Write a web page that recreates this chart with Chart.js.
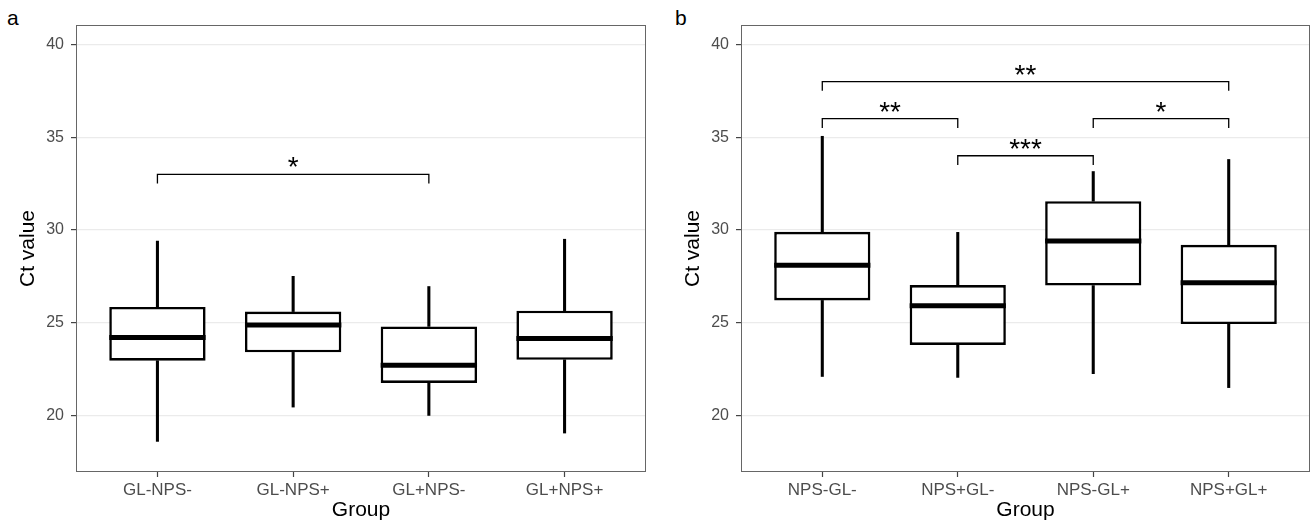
<!DOCTYPE html>
<html>
<head>
<meta charset="utf-8">
<script src="https://cdn.jsdelivr.net/npm/chart.js@4.4.0/dist/chart.umd.min.js"></script>
<style>
body{margin:0;background:#fff;width:1311px;height:525px;position:relative;overflow:hidden;font-family:'Liberation Sans',Arial,sans-serif}
.panel{position:absolute;top:0}
.tag{position:absolute;top:6px;font-size:21px;line-height:24px;color:#000}
</style>
</head>
<body>
<div class="tag" style="left:7px">a</div>
<div class="tag" style="left:675px">b</div>
<canvas id="chartA" class="panel" style="left:0" width="655" height="525"></canvas>
<canvas id="chartB" class="panel" style="left:665px" width="646" height="525"></canvas>
<script>
// panel a
const groupsA = ['GL-NPS-', 'GL-NPS+', 'GL+NPS-', 'GL+NPS+'];
const minA = [18.6, 20.45, 20.0, 19.05];
const q1A  = [22.95, 23.4, 21.75, 23.0];
const medA = [24.2, 24.87, 22.7, 24.15];
const q3A  = [25.85, 25.6, 24.8, 25.65];
const maxA = [29.4, 27.5, 26.95, 29.5];
const sigA = [{from: 1, to: 3, y: 33, label: '*'}];

// panel b
const groupsB = ['NPS-GL-', 'NPS+GL-', 'NPS-GL+', 'NPS+GL+'];
const minB = [22.1, 22.05, 22.25, 21.5];
const q1B  = [26.2, 23.8, 27.0, 24.93];
const medB = [28.1, 25.92, 29.4, 27.15];
const q3B  = [29.9, 27.03, 31.55, 29.2];
const maxB = [35.05, 29.87, 33.15, 33.8];
const sigB = [
    {from: 1, to: 4, y: 38, label: '**'},
    {from: 1, to: 2, y: 36, label: '**'},
    {from: 2, to: 3, y: 34, label: '***'},
    {from: 3, to: 4, y: 36, label: '*'}
];

const yTicks = [20, 25, 30, 35, 40];
const yMin = 16.95, yMax = 41.05;
const tipLen = 0.5;

const FONT = "'Liberation Sans', Arial, sans-serif";

function boxPlot(id, groups, mins, q1s, meds, q3s, maxs, sigs, padRight){
    let pos = groups.map((g, i) => i + 1);
    let boxData  = pos.map((x, i) => ({x: x, y: [q1s[i], q3s[i]]}));
    let lowData  = pos.map((x, i) => ({x: x, y: [mins[i], q1s[i]]}));
    let highData = pos.map((x, i) => ({x: x, y: [q3s[i], maxs[i]]}));

    // medians, significance brackets and panel border
    let extras = {
        id: 'extras',
        afterDatasetsDraw(chart){
            let ctx = chart.ctx, xs = chart.scales.x, ys = chart.scales.y;
            let bars = chart.getDatasetMeta(0).data;
            ctx.save();
            ctx.strokeStyle = '#000';
            ctx.lineWidth = 5;
            bars.forEach((b, i) => {
                let y = ys.getPixelForValue(meds[i]);
                ctx.beginPath();
                ctx.moveTo(b.x - b.width / 2, y);
                ctx.lineTo(b.x + b.width / 2, y);
                ctx.stroke();
            });

            ctx.lineWidth = 1.3;
            ctx.fillStyle = '#000';
            ctx.font = '28px ' + FONT;
            ctx.textAlign = 'center';
            ctx.textBaseline = 'alphabetic';
            sigs.forEach((s) => {
                let x1 = xs.getPixelForValue(s.from), x2 = xs.getPixelForValue(s.to);
                let y = ys.getPixelForValue(s.y), yt = ys.getPixelForValue(s.y - tipLen);
                ctx.beginPath();
                ctx.moveTo(x1, yt);
                ctx.lineTo(x1, y);
                ctx.lineTo(x2, y);
                ctx.lineTo(x2, yt);
                ctx.stroke();
                ctx.fillText(s.label, (x1 + x2) / 2, y + 2);
            });

            let a = chart.chartArea;
            ctx.strokeStyle = '#666';
            ctx.lineWidth = 1;
            ctx.strokeRect(a.left + 0.5, a.top + 0.5, a.right - a.left - 1, a.bottom - a.top - 1);
            ctx.restore();
        }
    };

    return new Chart(document.getElementById(id), {
        type: 'bar',
        data: {
            datasets: [
                {data: boxData, backgroundColor: '#fff', borderColor: '#000', borderWidth: 2.6,
                 borderSkipped: false, barPercentage: 0.71, categoryPercentage: 1, grouped: false},
                {data: lowData, backgroundColor: '#000', barThickness: 2.4, grouped: false},
                {data: highData, backgroundColor: '#000', barThickness: 2.4, grouped: false}
            ]
        },
        options: {
            responsive: false,
            animation: false,
            layout: {padding: {top: 25, right: padRight, left: 0, bottom: 0}},
            plugins: {legend: {display: false}, tooltip: {enabled: false}},
            scales: {
                x: {
                    type: 'linear', min: 0.4, max: 4.6, offset: false,
                    afterBuildTicks: (s) => { s.ticks = pos.map((v) => ({value: v})); },
                    afterFit: (s) => { s.height = 53; },
                    grid: {offset: false, drawOnChartArea: false, tickLength: 5, tickColor: '#444', tickWidth: 1.2},
                    border: {display: false},
                    ticks: {autoSkip: false, maxRotation: 0, padding: 3, color: '#4d4d4d',
                            font: {family: FONT, size: 17}, callback: (v) => groups[v - 1]},
                    title: {display: true, text: 'Group', color: '#000',
                            font: {family: FONT, size: 21}, padding: {top: 0, bottom: 2}}
                },
                y: {
                    min: yMin, max: yMax,
                    afterBuildTicks: (s) => { s.ticks = yTicks.map((v) => ({value: v})); },
                    afterFit: (s) => { s.width = 76; },
                    grid: {color: '#ebebeb', lineWidth: 1.2, tickLength: 5, tickColor: '#444', tickWidth: 1.2},
                    border: {display: false},
                    ticks: {padding: 7, color: '#4d4d4d', font: {family: FONT, size: 16}},
                    title: {display: true, text: 'Ct value', color: '#000',
                            font: {family: FONT, size: 21}, padding: {top: 16, bottom: 0}}
                }
            }
        },
        plugins: [extras]
    });
}

boxPlot('chartA', groupsA, minA, q1A, medA, q3A, maxA, sigA, 9);
boxPlot('chartB', groupsB, minB, q1B, medB, q3B, maxB, sigB, 1);
</script>
</body>
</html>
